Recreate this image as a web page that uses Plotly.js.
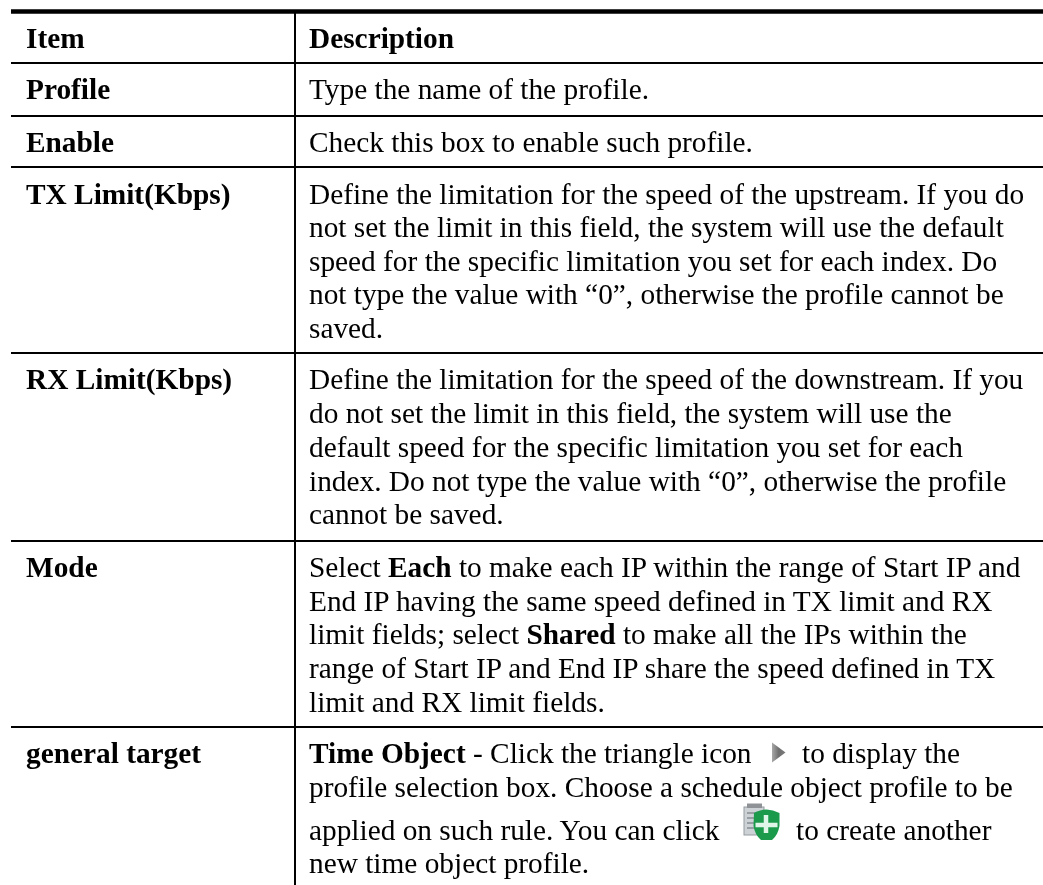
<!DOCTYPE html>
<html><head><meta charset="utf-8">
<script src="https://cdn.plot.ly/plotly-3.0.1.min.js"></script>
<style>html,body{margin:0;padding:0;background:#fff;overflow:hidden}#c{width:1043px;height:885px}
.textpoint{filter:blur(.35px)}</style>
</head><body><div id="c"></div>
<script>
const itemLabels = ["Item","Profile","Enable","TX Limit(Kbps)","RX Limit(Kbps)","Mode","general target"];
const itemBase = [48,99,152,204,389,577,763];
const descLines = [
 "<b>Description</b>",
 "Type the name of the profile.",
 "Check this box to enable such profile.",
 "Define the limitation for the speed of the upstream. If you do",
 "not set the limit in this field, the system will use the default",
 "speed for the specific limitation you set for each index. Do",
 "not type the value with “0”, otherwise the profile cannot be",
 "saved.",
 "Define the limitation for the speed of the downstream. If you",
 "do not set the limit in this field, the system will use the",
 "default speed for the specific limitation you set for each",
 "index. Do not type the value with “0”, otherwise the profile",
 "cannot be saved.",
 "Select <b>Each</b> to make each IP within the range of Start IP and",
 "End IP having the same speed defined in TX limit and RX",
 "limit fields; select <b>Shared</b> to make all the IPs within the",
 "range of Start IP and End IP share the speed defined in TX",
 "limit and RX limit fields.",
 "<b>Time Object</b> - Click the triangle icon",
 "profile selection box. Choose a schedule object profile to be",
 "applied on such rule. You can click",
 "new time object profile."
];
const descBase = [48,99,152,204,237,271,304,338,389,423,457,491,524,577,611,644,678,712,763,797,840,873];
const tailLines = ["to display the","to create another"];
const tailX = [802,796];
const tailBase = [763,840];
const ruleY = [63,116,167,353,541,727];
const ruleWidth = 2;
const topRuleY = 11.4;
const dividerX = 295;
const col1X = 26, col2X = 309;
const left = 11, right = 1043, bottom = 885;
const fontPx = 29.33;
const baseShift = 7.5;

const triSvg = `<svg xmlns="http://www.w3.org/2000/svg" width="30" height="42" viewBox="0 0 30 42"><defs><linearGradient id="g" x1="0" x2="1" y1="0" y2="0"><stop offset="0" stop-color="#a8a8a8"/><stop offset="0.5" stop-color="#6e6e6e"/><stop offset="1" stop-color="#7c7c7c"/></linearGradient><filter id="b"><feGaussianBlur stdDeviation="0.9"/></filter></defs><path d="M2 1 L29 21 L2 41 Z" fill="url(#g)" filter="url(#b)"/></svg>`;
const addSvg = `<svg xmlns="http://www.w3.org/2000/svg" width="74" height="74" viewBox="0 0 74 74"><defs><filter id="b"><feGaussianBlur stdDeviation="1.4"/></filter></defs><g filter="url(#b)"><rect x="2" y="8" width="40" height="56" fill="#ccd2d6" stroke="#969ba0" stroke-width="2"/><rect x="8" y="1" width="30" height="9" fill="#8f9397"/><path d="M8 20h24M8 30h20M8 40h20M8 50h20" stroke="#868e94" stroke-width="3"/><path d="M22 20 Q34 13 47 13 Q60 13 73 20 L73 46 Q70 64 58 74 L36 74 Q24 64 21 46 Z" fill="#1c9a4b"/><path d="M46 24 v36 M25 44 h44" stroke="#dff5e7" stroke-width="9"/></g></svg>`;
const uri = s => 'data:image/svg+xml;base64,' + btoa(s);

const font = {family:'"Liberation Serif","Times New Roman",serif',size:fontPx,color:'#000'};
const shifted = a => a.map(v => v - baseShift);
const textTrace = (x,y,text) => ({type:'scatter',mode:'text',x,y,text,textposition:'middle right',textfont:font,hoverinfo:'skip',cliponaxis:false});
const traces = [
 textTrace(itemLabels.map(()=>col1X),shifted(itemBase),itemLabels.map(s=>'<b>'+s+'</b>')),
 textTrace(descLines.map(()=>col2X),shifted(descBase),descLines),
 textTrace(tailX,shifted(tailBase),tailLines)
];
const ln = (x0,x1,y0,y1,width) => ({type:'line',xref:'x',yref:'y',x0,x1,y0,y1,line:{color:'#000',width}});
const shapes = [ln(left,right,topRuleY,topRuleY,4.5),ln(dividerX,dividerX,topRuleY,bottom,2)]
  .concat(ruleY.map(y=>ln(left,right,y,y,ruleWidth)));
const images = [
 {source:uri(triSvg),xref:'x',yref:'y',x:771,y:742,sizex:15,sizey:21,sizing:'stretch',xanchor:'left',yanchor:'top',layer:'above'},
 {source:uri(addSvg),xref:'x',yref:'y',x:743,y:803,sizex:37,sizey:37,sizing:'stretch',xanchor:'left',yanchor:'top',layer:'above'}
];
const hidden = {visible:false,showgrid:false,zeroline:false,fixedrange:true};
Plotly.newPlot('c',traces,{
 width:1043,height:885,margin:{l:0,r:0,t:0,b:0},showlegend:false,
 paper_bgcolor:'#fff',plot_bgcolor:'#fff',
 xaxis:Object.assign({range:[0,1043]},hidden),
 yaxis:Object.assign({range:[885,0]},hidden),
 shapes,images
},{displayModeBar:false,staticPlot:true});
</script></body></html>
